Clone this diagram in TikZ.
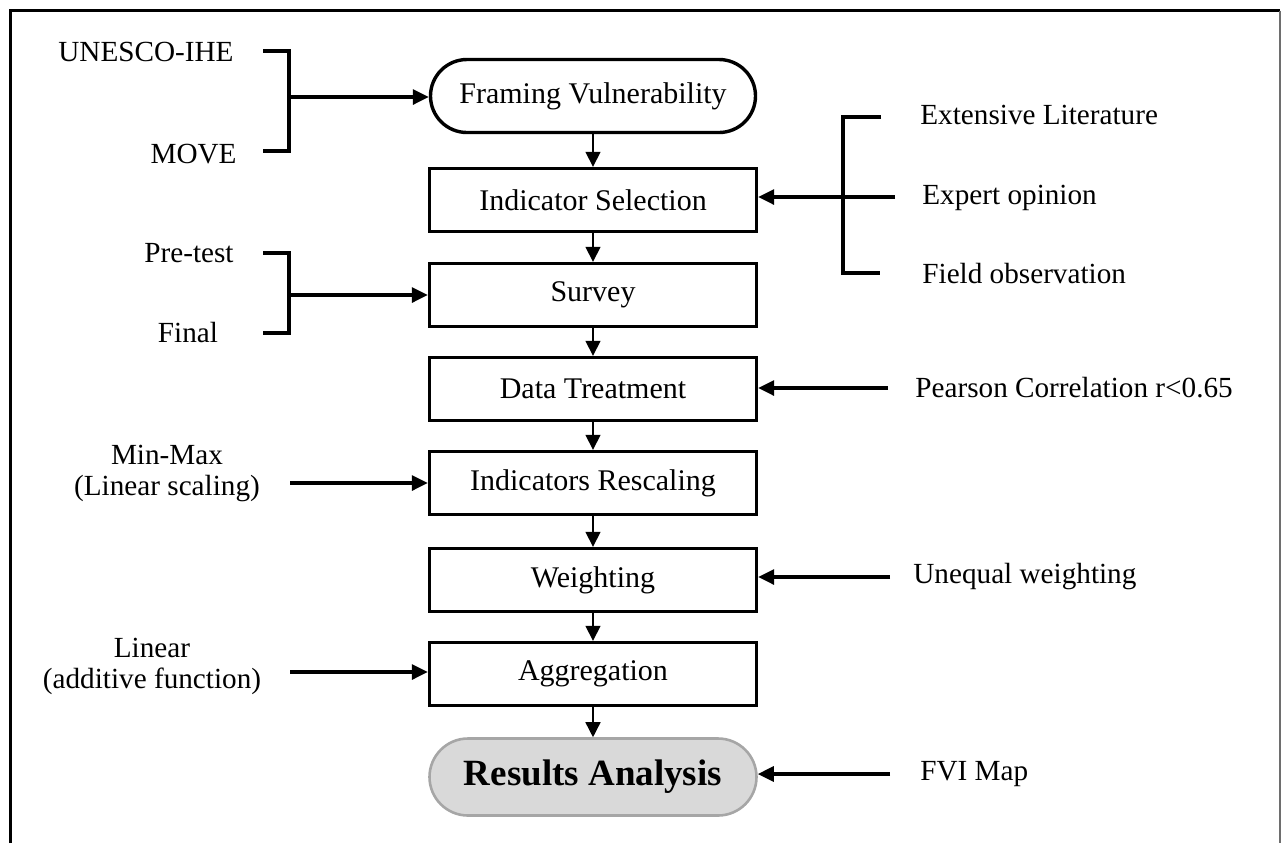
\documentclass[tikz,border=0pt]{standalone}
\usepackage{fontspec}
\setmainfont{Liberation Serif}
\usetikzlibrary{arrows.meta,shapes.misc}
\definecolor{anafill}{HTML}{D9D9D9}
\definecolor{anadraw}{HTML}{A6A6A6}
\definecolor{framegray}{HTML}{6E6E6E}
\begin{document}
\begin{tikzpicture}[x=0.5pt,y=-0.5pt,
  txt/.style={font=\fontsize{15}{15.5}\selectfont},
  stepbox/.style={draw, line width=1.7pt, rectangle, minimum width=163.5pt, minimum height=31.5pt, inner sep=0pt, txt},
  termbox/.style={stepbox, rounded rectangle},
  lbl/.style={inner sep=0pt, font=\fontsize{14.6}{15.5}\selectfont},
  flow/.style={-{Triangle[length=7.5pt,width=7.5pt]}, line width=0.75pt},
  feed/.style={-{Triangle[length=8pt,width=7.5pt]}, line width=1.6pt},
  brk/.style={line width=1.6pt}]
\useasboundingbox (0,0) rectangle (1281,843);
% outer frame
\draw[line width=1.6pt] (10.5,843) -- (10.5,10.5) -- (1280,10.5);
\draw[framegray, line width=0.7pt] (1280,10.5) -- (1280,843);
% main flow
\node[termbox, minimum width=162.5pt, minimum height=36.5pt] (frame) at (593,96) {Framing Vulnerability};
\node[stepbox] (ind) at (593,200) {Indicator Selection};
\node[stepbox] (sur) at (593,295) {Survey};
\node[stepbox] (dat) at (593,389) {Data Treatment};
\node[stepbox] (res) at (593,483) {Indicators Rescaling};
\node[stepbox] (wei) at (593,580) {Weighting};
\node[stepbox] (agg) at (593,674) {Aggregation};
\node[termbox, fill=anafill, draw=anadraw, line width=1.3pt, minimum height=38.5pt, font=\fontsize{18.5}{20}\selectfont\bfseries] (ana) at (593,777) {Results Analysis};
\draw[flow] (frame.south) -- (ind.north);
\draw[flow] (ind.south) -- (sur.north);
\draw[flow] (sur.south) -- (dat.north);
\draw[flow] (dat.south) -- (res.north);
\draw[flow] (res.south) -- (wei.north);
\draw[flow] (wei.south) -- (agg.north);
\draw[flow] (agg.south) -- (ana.north);
% left labels
\node[lbl, anchor=east] (unesco) at (234,52) {UNESCO-IHE};
\node[lbl, anchor=east] (move) at (237,154) {MOVE};
\node[lbl] (pre) at (189,253) {Pre-test};
\node[lbl] (fin) at (188,332) {Final};
\node[lbl, align=center] (minmax) at (167,473) {Min-Max\\(Linear scaling)};
\node[lbl, align=center] (lin) at (152,666) {Linear\\(additive function)};
% left brackets
\coordinate (a1) at (263,51); \coordinate (a2) at (289,51);
\coordinate (a3) at (289,151); \coordinate (a4) at (263,151);
\coordinate (am) at (289,97);
\draw[brk] (a1) -- (a2) -- (a3) -- (a4);
\draw[feed] (am) -- (am -| frame.west);
\coordinate (b1) at (263,253); \coordinate (b2) at (289,253);
\coordinate (b3) at (289,333); \coordinate (b4) at (263,333);
\coordinate (bm) at (289,295);
\draw[brk] (b1) -- (b2) -- (b3) -- (b4);
\draw[feed] (bm) -- (sur.west);
\coordinate (m1) at (290,483);
\draw[feed] (m1) -- (res.west);
\coordinate (l1) at (290,672);
\draw[feed] (l1) -- (l1 -| agg.west);
% right labels
\node[lbl, anchor=west] (ext) at (920,115) {Extensive Literature};
\node[lbl, anchor=west] (exp) at (922,198) {Expert opinion};
\node[lbl, anchor=west] (fld) at (922,273) {Field observation};
\node[lbl, anchor=west] (pea) at (915,388) {Pearson Correlation r<0.65};
\node[lbl, anchor=west] (uneq) at (913,577) {Unequal weighting};
\node[lbl, anchor=west] (fvi) at (920,774) {FVI Map};
% right bracket
\coordinate (c1) at (881,117); \coordinate (c2) at (843,117);
\coordinate (c3) at (843,273); \coordinate (c4) at (880,273);
\coordinate (cm) at (895,197);
\draw[brk] (c1) -- (c2) -- (c3) -- (c4);
\draw[feed] (cm) -- (cm -| ind.east);
\coordinate (p1) at (888,388);
\draw[feed] (p1) -- (p1 -| dat.east);
\coordinate (u1) at (890,577);
\draw[feed] (u1) -- (u1 -| wei.east);
\coordinate (f1) at (890,774);
\draw[feed] (f1) -- (f1 -| ana.east);
\end{tikzpicture}
\end{document}
